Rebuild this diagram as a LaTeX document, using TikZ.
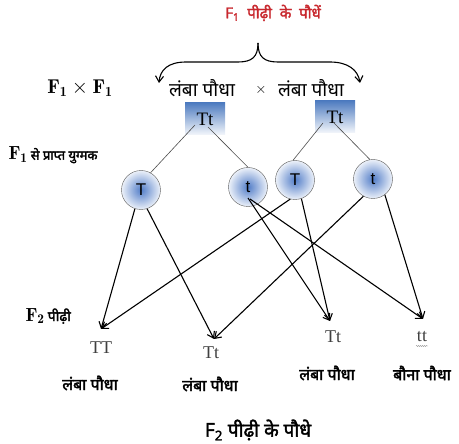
\documentclass[tikz,border=0pt]{standalone}
\usepackage{fontspec}
\usetikzlibrary{arrows.meta,decorations.pathmorphing}
\newfontfamily\hindi[Script=Devanagari, AutoFakeBold=2.2]{Noto Sans}
\newfontfamily\arialfont{Liberation Sans}
\newfontfamily\timesfont{Liberation Serif}
\definecolor{boxblue}{HTML}{4F7CC0}
\definecolor{ballblue}{HTML}{3F6FC2}
\definecolor{titlered}{HTML}{C8282E}

\begin{document}
\begin{tikzpicture}[x=1pt,y=-1pt,
  gamete/.style={circle, draw=gray!70!black, minimum size=39pt, inner sep=0pt, inner color=ballblue!90, outer color=ballblue!10, font=\arialfont\fontsize{17}{17}\selectfont},
  parent/.style={rectangle, minimum width=40pt, minimum height=32pt, inner sep=0pt, top color=boxblue, bottom color=boxblue!6, font=\timesfont\fontsize{19}{19}\selectfont},
  geno/.style={font=\timesfont\fontsize{18}{18}\selectfont, text=black!75},
  plant/.style={font=\hindi\bfseries\fontsize{16}{18}\selectfont},
  pair/.style={font=\hindi\fontsize{19}{21}\selectfont},
  split/.style={draw=gray!60!black, line width=0.6pt},
  cross/.style={draw, line width=1.1pt, -{Straight Barb[length=6pt,width=8pt]}},
  brace/.style={draw, line width=1.1pt, -{Straight Barb[length=6pt,width=8pt]}},
]
\useasboundingbox (0,0) rectangle (459,444);

% labels on the left
\node[font=\hindi\bfseries\fontsize{15}{17}\selectfont, text=titlered] (ttl) at (273,13) {F\textsubscript{1}\ \ पीढ़ी\ \ के\ \ पौधें};
\node[font=\fontsize{20}{22}\selectfont] (cr) at (80,88) {$\mathbf{F_1\times F_1}$};
\node[anchor=west, font=\fontsize{19}{21}\selectfont] (gam) at (5,155) {$\mathbf{F_1}$\,{\hindi\bfseries\fontsize{13}{15}\selectfont से प्राप्त युग्मक}};
\node[anchor=west, font=\fontsize{19}{21}\selectfont] (gen) at (22,316) {$\mathbf{F_2}$\,{\hindi\bfseries\fontsize{14}{16}\selectfont पीढ़ी}};

% parents
\node[pair] (p1) at (202,88) {लंबा पौधा};
\node[font=\arialfont\fontsize{15}{15}\selectfont] (x) at (261,90) {$\times$};
\node[pair] (p2) at (311,88) {लंबा पौधा};
\node[parent] (b1) at (205,119) {Tt};
\node[parent] (b2) at (335,117) {Tt};

% brace
\coordinate (pk) at (258,43);
\coordinate (bl) at (159,83);
\coordinate (br) at (360,83);
\path[brace] (pk) .. controls (258,57) and (252,62) .. (238,62) -- (186,62) .. controls (168,62) and (160,70) .. (bl);
\path[brace] (pk) .. controls (258,57) and (264,62) .. (278,62) -- (330,62) .. controls (348,62) and (358,70) .. (br);

% gametes
\node[gamete] (c1) at (141,190) {T};
\node[gamete] (c2) at (248,187) {t};
\node[gamete] (c3) at (295,180) {T};
\node[gamete] (c4) at (373,179) {t};

\path[split] ([shift={(-10pt,-6pt)}]b1.center) -- (c1.61);
\path[split] ([shift={(3pt,-8pt)}]b1.center) -- (c2.90);
\path[split] ([shift={(-12pt,-6pt)}]b2.center) -- (c3.96);
\path[split] ([shift={(-2pt,-5pt)}]b2.center) -- (c4.99);

% F2 plants
\node[geno] (TT) at (101,348) {TT};
\node[geno] (Tt1) at (211,353) {Tt};
\node[geno] (Tt2) at (333,337) {Tt};
\node[geno] (tt) at (422,337) {tt};
\draw[gray, line width=0.3pt, decorate, decoration={snake, amplitude=0.6pt, segment length=2pt}] (416,346) -- (428,346);

\node[plant] (l1) at (90,383) {लंबा पौधा};
\node[plant] (l2) at (210,384) {लंबा पौधा};
\node[plant] (l3) at (327,373) {लंबा पौधा};
\node[plant] (l4) at (422,373) {बौना पौधा};
\node[font=\hindi\bfseries\fontsize{19}{21}\selectfont] (fin) at (258,430) {F\textsubscript{2} पीढ़ी के पौधे};

\coordinate (aTT) at (101,329);
\coordinate (aTt1) at (214,339);
\coordinate (aTt2) at (330,321);
\coordinate (att) at (423,319);

\path[cross] (c1.-108) -- (aTT);
\path[cross] (c1.-72) -- (aTt1);
\path[cross] ([yshift=-11pt]c2.center) -- (aTt2);
\path[cross] ([shift={(2pt,-12pt)}]c2.center) -- (att);
\path[cross] (c3.-104) -- (aTT);
\path[cross] (c3.-71) -- (aTt2);
\path[cross] (c4.-119) -- (aTt1);
\path[cross] (c4.-53) -- (att);
\end{tikzpicture}
\end{document}
